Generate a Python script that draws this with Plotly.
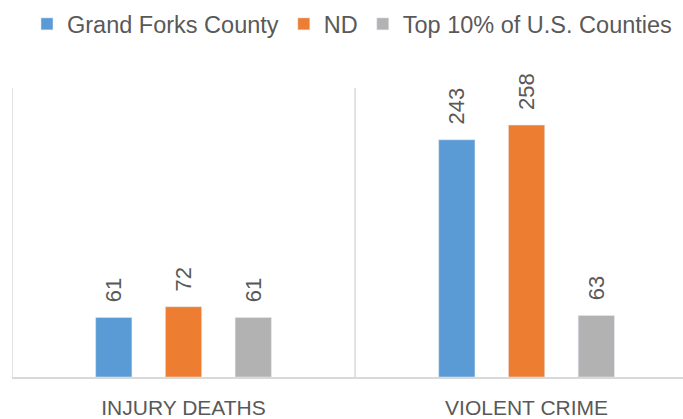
import plotly.graph_objects as go

categories = ["INJURY DEATHS", "VIOLENT CRIME"]
series_names = ["Grand Forks County", "ND", "Top 10% of U.S. Counties"]
grand_forks = [61, 243]
nd = [72, 258]
top10 = [61, 63]
colors = ["#5B9BD5", "#ED7D31", "#B2B2B2"]

FONT = "Liberation Sans, Arial, sans-serif"
TXT = "#595959"
PAD = "\u00a0\u00a0"

fig = go.Figure()
for name, vals, col in zip(series_names, [grand_forks, nd, top10], colors):
    fig.add_trace(go.Bar(
        x=categories, y=vals, name=name, marker_color=col,
        text=[PAD + str(v) for v in vals], textposition="outside", textangle=-90,
        constraintext="none",
        textfont=dict(family=FONT, size=22, color=TXT),
        cliponaxis=False,
    ))

# category separators
for xv in [-0.5, 0.5]:
    fig.add_shape(type="line", xref="x", yref="y", x0=xv, x1=xv, y0=0, y1=296,
                  line=dict(color="#D9D9D9", width=1.5), layer="below")

fig.update_layout(
    width=683, height=419,
    margin=dict(l=12, r=0, t=88, b=42, autoexpand=False),
    paper_bgcolor="white", plot_bgcolor="white",
    barmode="group", bargap=0.39, bargroupgap=0.48,
    showlegend=True,
    legend=dict(orientation="h", xref="container", yref="container",
                x=0.0395, y=0.995, xanchor="left", yanchor="top",
                font=dict(family=FONT, size=23.5, color=TXT),
                traceorder="normal", itemwidth=30),
    xaxis=dict(range=[-0.5, 1.456], showgrid=False, zeroline=False,
               showline=True, linecolor="#D9D9D9", linewidth=1.5,
               ticks="outside", ticklen=11, tickcolor="rgba(0,0,0,0)",
               tickfont=dict(family=FONT, size=21, color=TXT), fixedrange=True),
    yaxis=dict(range=[0, 296], showgrid=False, zeroline=False, showline=False,
               showticklabels=False, fixedrange=True),
)

fig.write_html("out.html", config={"displayModeBar": False},
               post_script="document.body.style.margin='0px';")
